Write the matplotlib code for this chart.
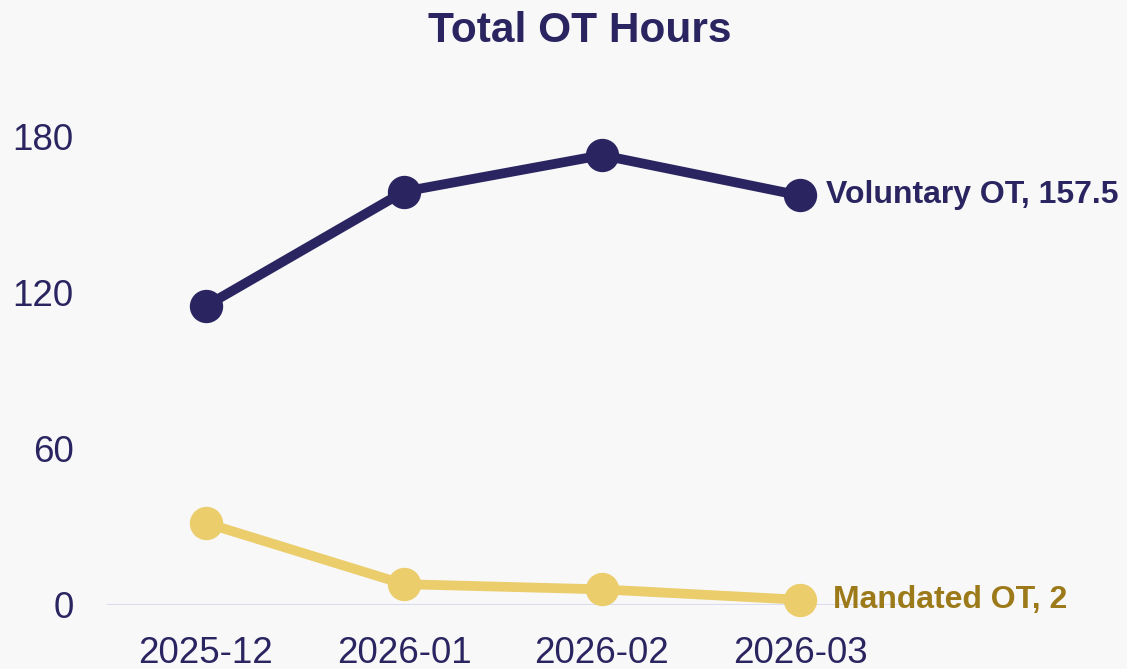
import matplotlib
matplotlib.use("Agg")
import matplotlib.pyplot as plt

months = ["2025-12", "2026-01", "2026-02", "2026-03"]
voluntary = [115, 159, 173, 157.5]
mandated = [31.5, 8, 6, 2]
y_ticks = [0, 60, 120, 180]

navy = "#2a2560"
yellow = "#ebcd6b"
gold = "#9c7a1a"
bg = "#f8f8f8"

plt.rcParams["font.family"] = ["Liberation Sans", "DejaVu Sans"]

fig = plt.figure(figsize=(11.27, 6.69), dpi=100, facecolor=bg)
ax = fig.add_axes([0.0949, 0.0957, 0.7028, 0.7384], facecolor=bg)

x = list(range(len(months)))

# zero baseline
ax.axhline(0, color="#dcdcf0", linewidth=1.5, zorder=1)

ax.plot(x, mandated, color=yellow, linewidth=7, marker="o", markersize=23,
        solid_capstyle="round", clip_on=False, zorder=3)
ax.plot(x, voluntary, color=navy, linewidth=7, marker="o", markersize=23,
        solid_capstyle="round", clip_on=False, zorder=4)

# end labels
ax.annotate(f"Voluntary OT, {voluntary[-1]:g}", (x[-1], voluntary[-1]),
            xytext=(19, 0), textcoords="offset points", va="center", ha="left",
            fontsize=23, fontweight="bold", color=navy, annotation_clip=False)
ax.annotate(f"Mandated OT, {mandated[-1]:g}", (x[-1], mandated[-1]),
            xytext=(24, 0), textcoords="offset points", va="center", ha="left",
            fontsize=23, fontweight="bold", color=gold, annotation_clip=False)

ax.set_xlim(-0.5, len(months) - 0.5)
ax.set_ylim(0, 190)
ax.set_xticks(x)
ax.set_xticklabels(months)
ax.set_yticks(y_ticks)
ax.tick_params(axis="both", length=0, labelsize=26.5, labelcolor=navy)
ax.tick_params(axis="y", pad=24)
ax.tick_params(axis="x", pad=22)
for s in ax.spines.values():
    s.set_visible(False)

fig.text(0.514, 0.937, "Total OT Hours", ha="center", va="baseline",
         fontsize=30.5, fontweight="bold", color=navy)

fig.savefig("out.png", dpi=100, facecolor=bg)
